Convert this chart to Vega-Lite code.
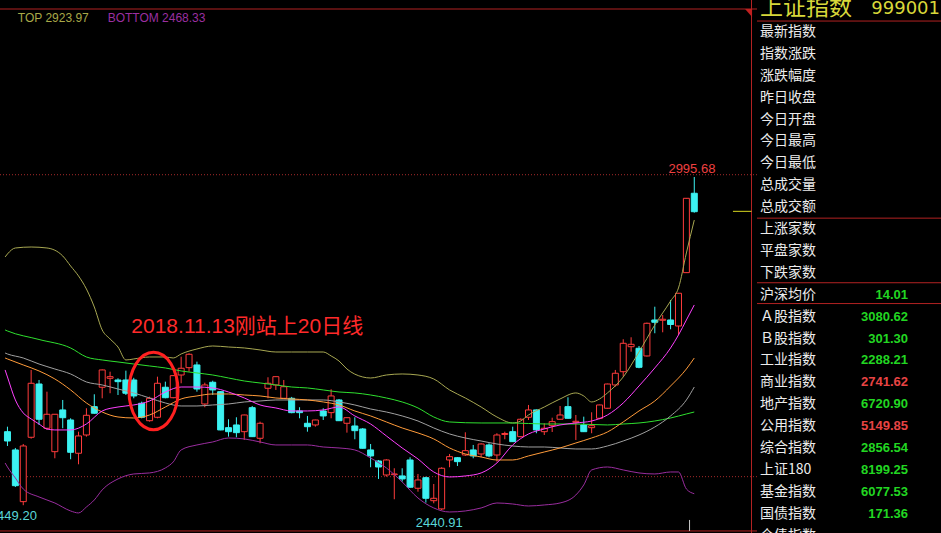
{
"$schema":"https://vega.github.io/schema/vega-lite/v6.json",
"background":"#000000","padding":0,"spacing":0,"bounds":"flush",
"config":{"view":{"stroke":null}},
"datasets":{
"candles":[
{"i":0,"o":2571.6,"h":2579.9,"l":2547.8,"c":2556.1},{"i":1,"o":2541.2,"h":2544.5,"l":2479.5,"c":2481.7},{"i":2,"o":2455.1,"h":2551.1,"l":2449.2,"c":2547.8},{"i":3,"o":2562.3,"h":2674.4,"l":2560.0,"c":2652.2},{"i":4,"o":2651.0,"h":2657.7,"l":2582.8,"c":2592.3},{"i":5,"o":2577.3,"h":2638.2,"l":2574.5,"c":2600.6},{"i":6,"o":2538.3,"h":2601.0,"l":2527.3,"c":2600.6},{"i":7,"o":2607.8,"h":2624.4,"l":2577.3,"c":2594.9},{"i":8,"o":2591.1,"h":2593.9,"l":2525.7,"c":2537.3},{"i":9,"o":2535.7,"h":2571.6,"l":2517.3,"c":2564.5},
{"i":10,"o":2566.1,"h":2610.6,"l":2563.3,"c":2598.9},{"i":11,"o":2613.3,"h":2633.9,"l":2601.5,"c":2602.3},{"i":12,"o":2645.6,"h":2675.2,"l":2627.2,"c":2674.4},{"i":13,"o":2660.5,"h":2671.5,"l":2635.6,"c":2663.2},{"i":14,"o":2657.7,"h":2660.5,"l":2632.7,"c":2654.9},{"i":15,"o":2657.7,"h":2673.2,"l":2632.7,"c":2635.6},{"i":16,"o":2657.7,"h":2661.3,"l":2627.2,"c":2631.1},{"i":17,"o":2618.9,"h":2621.6,"l":2593.9,"c":2595.6},{"i":18,"o":2589.9,"h":2629.9,"l":2588.3,"c":2627.2},{"i":19,"o":2595.6,"h":2663.2,"l":2593.9,"c":2652.2},
{"i":20,"o":2645.6,"h":2654.9,"l":2627.2,"c":2628.2},{"i":21,"o":2628.2,"h":2666.0,"l":2627.2,"c":2664.9},{"i":22,"o":2666.0,"h":2696.5,"l":2652.2,"c":2677.2},{"i":23,"o":2678.2,"h":2702.2,"l":2671.5,"c":2700.5},{"i":24,"o":2682.7,"h":2688.2,"l":2638.2,"c":2642.7},{"i":25,"o":2617.7,"h":2653.2,"l":2612.3,"c":2649.4},{"i":26,"o":2653.9,"h":2656.5,"l":2632.7,"c":2641.1},{"i":27,"o":2638.2,"h":2639.3,"l":2574.0,"c":2574.5},{"i":28,"o":2578.3,"h":2592.3,"l":2563.3,"c":2571.6},{"i":29,"o":2582.8,"h":2595.6,"l":2562.3,"c":2570.0},
{"i":30,"o":2571.6,"h":2599.9,"l":2557.8,"c":2599.4},{"i":31,"o":2611.6,"h":2614.4,"l":2562.8,"c":2563.3},{"i":32,"o":2560.6,"h":2588.3,"l":2552.3,"c":2585.6},{"i":33,"o":2643.9,"h":2662.2,"l":2627.2,"c":2652.2},{"i":34,"o":2649.4,"h":2663.5,"l":2641.1,"c":2663.2},{"i":35,"o":2627.2,"h":2657.7,"l":2626.7,"c":2646.5},{"i":36,"o":2627.2,"h":2629.5,"l":2602.3,"c":2603.3},{"i":37,"o":2606.1,"h":2612.3,"l":2593.9,"c":2603.3},{"i":38,"o":2585.6,"h":2597.8,"l":2571.6,"c":2579.9},{"i":39,"o":2582.8,"h":2591.5,"l":2579.9,"c":2591.1},
{"i":40,"o":2606.1,"h":2610.6,"l":2591.1,"c":2597.8},{"i":41,"o":2603.3,"h":2642.2,"l":2593.9,"c":2631.1},{"i":42,"o":2624.4,"h":2626.0,"l":2589.5,"c":2589.9},{"i":43,"o":2585.6,"h":2595.3,"l":2570.0,"c":2594.9},{"i":44,"o":2581.1,"h":2595.6,"l":2559.0,"c":2573.3},{"i":45,"o":2576.1,"h":2577.7,"l":2543.5,"c":2544.0},{"i":46,"o":2541.2,"h":2551.1,"l":2512.4,"c":2531.2},{"i":47,"o":2522.8,"h":2524.5,"l":2492.9,"c":2512.8},{"i":48,"o":2499.5,"h":2525.6,"l":2496.7,"c":2524.5},{"i":49,"o":2500.0,"h":2510.7,"l":2459.1,"c":2501.2},
{"i":50,"o":2497.9,"h":2510.7,"l":2488.4,"c":2492.9},{"i":51,"o":2524.5,"h":2529.0,"l":2478.6,"c":2479.1},{"i":52,"o":2477.4,"h":2501.2,"l":2471.7,"c":2491.2},{"i":53,"o":2495.0,"h":2496.7,"l":2453.4,"c":2460.7},{"i":54,"o":2456.7,"h":2484.5,"l":2452.4,"c":2460.7},{"i":55,"o":2443.0,"h":2512.4,"l":2440.91,"c":2510.7},{"i":56,"o":2524.5,"h":2534.5,"l":2512.4,"c":2530.0},{"i":57,"o":2528.3,"h":2529.2,"l":2514.5,"c":2521.7},{"i":58,"o":2532.8,"h":2570.6,"l":2531.2,"c":2540.0},{"i":59,"o":2541.2,"h":2549.5,"l":2527.3,"c":2531.2},
{"i":60,"o":2534.5,"h":2552.3,"l":2529.0,"c":2551.1},{"i":61,"o":2549.5,"h":2552.3,"l":2529.0,"c":2531.2},{"i":62,"o":2532.8,"h":2569.0,"l":2521.7,"c":2566.1},{"i":63,"o":2567.0,"h":2571.6,"l":2559.0,"c":2568.6},{"i":64,"o":2571.6,"h":2579.9,"l":2554.5,"c":2555.0},{"i":65,"o":2563.3,"h":2593.6,"l":2562.3,"c":2592.3},{"i":66,"o":2595.6,"h":2616.1,"l":2591.1,"c":2607.8},{"i":67,"o":2607.8,"h":2608.6,"l":2569.0,"c":2574.5},{"i":68,"o":2571.6,"h":2585.6,"l":2566.1,"c":2577.3},{"i":69,"o":2581.6,"h":2594.9,"l":2571.1,"c":2588.3},
{"i":70,"o":2592.3,"h":2614.4,"l":2591.9,"c":2599.4},{"i":71,"o":2613.3,"h":2628.9,"l":2593.6,"c":2593.9},{"i":72,"o":2587.3,"h":2599.4,"l":2557.8,"c":2588.9},{"i":73,"o":2582.8,"h":2596.6,"l":2571.1,"c":2571.6},{"i":74,"o":2578.3,"h":2603.9,"l":2569.0,"c":2581.6},{"i":75,"o":2593.9,"h":2616.5,"l":2592.3,"c":2616.1},{"i":76,"o":2610.6,"h":2651.5,"l":2610.0,"c":2651.0},{"i":77,"o":2649.4,"h":2674.4,"l":2646.5,"c":2668.9},{"i":78,"o":2671.5,"h":2725.5,"l":2663.2,"c":2718.8},{"i":79,"o":2713.1,"h":2728.8,"l":2704.8,"c":2717.1},
{"i":80,"o":2710.5,"h":2714.3,"l":2677.2,"c":2678.8},{"i":81,"o":2697.7,"h":2753.2,"l":2696.9,"c":2752.1},{"i":82,"o":2757.6,"h":2779.7,"l":2735.5,"c":2753.8},{"i":83,"o":2757.1,"h":2765.9,"l":2737.1,"c":2758.8},{"i":84,"o":2757.6,"h":2790.9,"l":2742.1,"c":2750.1},{"i":85,"o":2747.6,"h":2802.6,"l":2732.6,"c":2802.1},{"i":86,"o":2836.4,"h":2960.7,"l":2836.0,"c":2960.2},{"i":87,"o":2968.6,"h":2995.68,"l":2936.3,"c":2937.9}
],
"lines":[
{"s":"up","i":-0.3,"v":2862.5},{"s":"up","i":0,"v":2867.5},{"s":"up","i":1,"v":2877.5},{"s":"up","i":3,"v":2879.1},{"s":"up","i":5,"v":2877.5},{"s":"up","i":7,"v":2864.2},{"s":"up","i":8,"v":2847.5},{"s":"up","i":9,"v":2830.9},{"s":"up","i":10,"v":2809.2},{"s":"up","i":11,"v":2779.2},{"s":"up","i":12,"v":2741.0},{"s":"up","i":13,"v":2726.0},{"s":"up","i":14,"v":2712.6},{"s":"up","i":15,"v":2691.0},{"s":"up","i":16,"v":2692.7},{"s":"up","i":18,"v":2696.0},{"s":"up","i":20,"v":2696.0},{"s":"up","i":21,"v":2694.3},{"s":"up","i":22,"v":2701.0},{"s":"up","i":24,"v":2709.3},{"s":"up","i":26,"v":2714.3},{"s":"up","i":28,"v":2712.6},{"s":"up","i":30,"v":2711.0},{"s":"up","i":32,"v":2707.7},{"s":"up","i":34,"v":2704.3},{"s":"up","i":36,"v":2704.3},{"s":"up","i":38,"v":2704.3},{"s":"up","i":40,"v":2704.3},{"s":"up","i":41,"v":2697.7},{"s":"up","i":42,"v":2689.3},{"s":"up","i":43,"v":2676.0},{"s":"up","i":45,"v":2662.7},{"s":"up","i":46,"v":2661.0},{"s":"up","i":48,"v":2666.0},{"s":"up","i":50,"v":2667.7},{"s":"up","i":52,"v":2666.0},{"s":"up","i":54,"v":2659.4},{"s":"up","i":56,"v":2641.1},{"s":"up","i":58,"v":2627.7},{"s":"up","i":60,"v":2612.7},{"s":"up","i":62,"v":2596.1},{"s":"up","i":64,"v":2586.1},{"s":"up","i":65,"v":2589.4},{"s":"up","i":66,"v":2599.4},{"s":"up","i":68,"v":2612.7},{"s":"up","i":70,"v":2626.1},{"s":"up","i":72,"v":2636.1},{"s":"up","i":73,"v":2631.1},{"s":"up","i":74,"v":2621.1},{"s":"up","i":75,"v":2626.1},{"s":"up","i":76,"v":2636.1},{"s":"up","i":78,"v":2662.7},{"s":"up","i":80,"v":2704.3},{"s":"up","i":82,"v":2749.3},{"s":"up","i":84,"v":2789.2},{"s":"up","i":85,"v":2810.9},{"s":"up","i":86,"v":2869.2},{"s":"up","i":87,"v":2923.97},
{"s":"lo","i":-0.3,"v":2519.5},{"s":"lo","i":0,"v":2512.8},{"s":"lo","i":1,"v":2494.5},{"s":"lo","i":2,"v":2476.2},{"s":"lo","i":4,"v":2462.9},{"s":"lo","i":6,"v":2452.9},{"s":"lo","i":8,"v":2439.6},{"s":"lo","i":9,"v":2436.3},{"s":"lo","i":10,"v":2446.2},{"s":"lo","i":11,"v":2457.9},{"s":"lo","i":12,"v":2474.6},{"s":"lo","i":14,"v":2492.9},{"s":"lo","i":16,"v":2501.2},{"s":"lo","i":18,"v":2502.9},{"s":"lo","i":20,"v":2511.2},{"s":"lo","i":21,"v":2521.2},{"s":"lo","i":22,"v":2541.2},{"s":"lo","i":24,"v":2549.5},{"s":"lo","i":26,"v":2554.5},{"s":"lo","i":28,"v":2561.1},{"s":"lo","i":30,"v":2559.5},{"s":"lo","i":32,"v":2554.5},{"s":"lo","i":34,"v":2549.5},{"s":"lo","i":36,"v":2549.5},{"s":"lo","i":38,"v":2549.5},{"s":"lo","i":40,"v":2546.1},{"s":"lo","i":42,"v":2544.5},{"s":"lo","i":44,"v":2541.2},{"s":"lo","i":46,"v":2527.8},{"s":"lo","i":48,"v":2511.2},{"s":"lo","i":50,"v":2487.9},{"s":"lo","i":52,"v":2461.2},{"s":"lo","i":54,"v":2444.6},{"s":"lo","i":56,"v":2437.9},{"s":"lo","i":58,"v":2439.6},{"s":"lo","i":60,"v":2444.6},{"s":"lo","i":62,"v":2452.9},{"s":"lo","i":64,"v":2451.2},{"s":"lo","i":66,"v":2447.9},{"s":"lo","i":68,"v":2449.6},{"s":"lo","i":70,"v":2452.9},{"s":"lo","i":72,"v":2466.2},{"s":"lo","i":73,"v":2482.9},{"s":"lo","i":74,"v":2507.9},{"s":"lo","i":76,"v":2512.8},{"s":"lo","i":78,"v":2507.9},{"s":"lo","i":80,"v":2502.9},{"s":"lo","i":82,"v":2501.2},{"s":"lo","i":84,"v":2504.5},{"s":"lo","i":85,"v":2504.5},{"s":"lo","i":86,"v":2476.2},{"s":"lo","i":87,"v":2468.33},
{"s":"g60","i":-0.3,"v":2741.0},{"s":"g60","i":0,"v":2739.3},{"s":"g60","i":4,"v":2725.1},{"s":"g60","i":8,"v":2711.0},{"s":"g60","i":10,"v":2696.0},{"s":"g60","i":12,"v":2691.0},{"s":"g60","i":14,"v":2687.7},{"s":"g60","i":16,"v":2684.3},{"s":"g60","i":18,"v":2681.0},{"s":"g60","i":20,"v":2677.7},{"s":"g60","i":22,"v":2672.7},{"s":"g60","i":24,"v":2669.4},{"s":"g60","i":26,"v":2666.0},{"s":"g60","i":28,"v":2661.0},{"s":"g60","i":30,"v":2656.0},{"s":"g60","i":32,"v":2652.7},{"s":"g60","i":34,"v":2649.4},{"s":"g60","i":36,"v":2646.0},{"s":"g60","i":38,"v":2644.4},{"s":"g60","i":40,"v":2641.1},{"s":"g60","i":42,"v":2637.7},{"s":"g60","i":44,"v":2636.1},{"s":"g60","i":46,"v":2632.7},{"s":"g60","i":48,"v":2627.7},{"s":"g60","i":50,"v":2621.1},{"s":"g60","i":52,"v":2611.1},{"s":"g60","i":54,"v":2596.1},{"s":"g60","i":56,"v":2587.8},{"s":"g60","i":60,"v":2586.1},{"s":"g60","i":64,"v":2586.1},{"s":"g60","i":68,"v":2584.4},{"s":"g60","i":72,"v":2584.4},{"s":"g60","i":76,"v":2582.8},{"s":"g60","i":78,"v":2584.4},{"s":"g60","i":80,"v":2586.1},{"s":"g60","i":82,"v":2589.4},{"s":"g60","i":84,"v":2594.4},{"s":"g60","i":86,"v":2601.1},{"s":"g60","i":87,"v":2604.4},
{"s":"g30","i":-0.3,"v":2702.6},{"s":"g30","i":0,"v":2701.0},{"s":"g30","i":2,"v":2694.3},{"s":"g30","i":4,"v":2684.3},{"s":"g30","i":6,"v":2676.0},{"s":"g30","i":8,"v":2667.7},{"s":"g30","i":10,"v":2654.4},{"s":"g30","i":12,"v":2649.4},{"s":"g30","i":14,"v":2642.7},{"s":"g30","i":16,"v":2636.1},{"s":"g30","i":18,"v":2627.7},{"s":"g30","i":20,"v":2619.4},{"s":"g30","i":22,"v":2614.4},{"s":"g30","i":24,"v":2614.4},{"s":"g30","i":26,"v":2616.1},{"s":"g30","i":28,"v":2617.7},{"s":"g30","i":30,"v":2621.1},{"s":"g30","i":32,"v":2622.7},{"s":"g30","i":34,"v":2624.4},{"s":"g30","i":36,"v":2624.4},{"s":"g30","i":38,"v":2624.4},{"s":"g30","i":40,"v":2624.4},{"s":"g30","i":42,"v":2621.1},{"s":"g30","i":44,"v":2616.1},{"s":"g30","i":46,"v":2609.4},{"s":"g30","i":48,"v":2604.4},{"s":"g30","i":50,"v":2597.8},{"s":"g30","i":52,"v":2589.4},{"s":"g30","i":54,"v":2577.8},{"s":"g30","i":56,"v":2567.8},{"s":"g30","i":58,"v":2561.1},{"s":"g30","i":60,"v":2556.1},{"s":"g30","i":62,"v":2551.1},{"s":"g30","i":64,"v":2547.8},{"s":"g30","i":66,"v":2546.1},{"s":"g30","i":68,"v":2546.1},{"s":"g30","i":70,"v":2544.5},{"s":"g30","i":72,"v":2542.8},{"s":"g30","i":74,"v":2542.8},{"s":"g30","i":76,"v":2547.8},{"s":"g30","i":78,"v":2556.1},{"s":"g30","i":80,"v":2566.1},{"s":"g30","i":82,"v":2579.4},{"s":"g30","i":84,"v":2597.8},{"s":"g30","i":86,"v":2624.4},{"s":"g30","i":87,"v":2646.0},
{"s":"m20","i":-0.3,"v":2694.3},{"s":"m20","i":0,"v":2692.7},{"s":"m20","i":2,"v":2682.7},{"s":"m20","i":4,"v":2672.7},{"s":"m20","i":6,"v":2659.4},{"s":"m20","i":8,"v":2641.1},{"s":"m20","i":10,"v":2619.4},{"s":"m20","i":12,"v":2604.4},{"s":"m20","i":14,"v":2596.1},{"s":"m20","i":16,"v":2594.4},{"s":"m20","i":18,"v":2599.4},{"s":"m20","i":20,"v":2612.7},{"s":"m20","i":22,"v":2626.1},{"s":"m20","i":24,"v":2631.1},{"s":"m20","i":26,"v":2634.4},{"s":"m20","i":28,"v":2634.4},{"s":"m20","i":30,"v":2632.7},{"s":"m20","i":32,"v":2631.1},{"s":"m20","i":34,"v":2627.7},{"s":"m20","i":36,"v":2626.1},{"s":"m20","i":38,"v":2624.4},{"s":"m20","i":40,"v":2621.1},{"s":"m20","i":42,"v":2616.1},{"s":"m20","i":44,"v":2606.1},{"s":"m20","i":46,"v":2597.8},{"s":"m20","i":48,"v":2587.8},{"s":"m20","i":50,"v":2577.8},{"s":"m20","i":52,"v":2569.5},{"s":"m20","i":54,"v":2559.5},{"s":"m20","i":56,"v":2544.5},{"s":"m20","i":58,"v":2534.5},{"s":"m20","i":60,"v":2529.5},{"s":"m20","i":62,"v":2524.5},{"s":"m20","i":64,"v":2524.5},{"s":"m20","i":66,"v":2531.2},{"s":"m20","i":68,"v":2537.8},{"s":"m20","i":70,"v":2544.5},{"s":"m20","i":72,"v":2552.8},{"s":"m20","i":74,"v":2561.1},{"s":"m20","i":76,"v":2571.1},{"s":"m20","i":78,"v":2587.8},{"s":"m20","i":80,"v":2606.1},{"s":"m20","i":82,"v":2622.7},{"s":"m20","i":84,"v":2647.7},{"s":"m20","i":86,"v":2676.0},{"s":"m20","i":87,"v":2694.3},
{"s":"m10","i":-0.3,"v":2674.4},{"s":"m10","i":0,"v":2662.7},{"s":"m10","i":1,"v":2624.4},{"s":"m10","i":2,"v":2602.8},{"s":"m10","i":3,"v":2592.8},{"s":"m10","i":4,"v":2584.4},{"s":"m10","i":5,"v":2576.1},{"s":"m10","i":6,"v":2574.5},{"s":"m10","i":8,"v":2574.5},{"s":"m10","i":10,"v":2584.4},{"s":"m10","i":12,"v":2606.1},{"s":"m10","i":14,"v":2612.7},{"s":"m10","i":16,"v":2616.1},{"s":"m10","i":18,"v":2622.7},{"s":"m10","i":20,"v":2637.7},{"s":"m10","i":22,"v":2646.0},{"s":"m10","i":24,"v":2646.0},{"s":"m10","i":26,"v":2644.4},{"s":"m10","i":28,"v":2637.7},{"s":"m10","i":30,"v":2627.7},{"s":"m10","i":32,"v":2616.1},{"s":"m10","i":34,"v":2611.1},{"s":"m10","i":36,"v":2606.1},{"s":"m10","i":38,"v":2606.1},{"s":"m10","i":40,"v":2607.8},{"s":"m10","i":42,"v":2612.7},{"s":"m10","i":44,"v":2597.8},{"s":"m10","i":46,"v":2584.4},{"s":"m10","i":48,"v":2564.5},{"s":"m10","i":50,"v":2544.5},{"s":"m10","i":52,"v":2526.2},{"s":"m10","i":54,"v":2504.5},{"s":"m10","i":56,"v":2496.2},{"s":"m10","i":58,"v":2497.9},{"s":"m10","i":60,"v":2502.9},{"s":"m10","i":62,"v":2519.5},{"s":"m10","i":64,"v":2549.5},{"s":"m10","i":66,"v":2567.8},{"s":"m10","i":68,"v":2576.1},{"s":"m10","i":70,"v":2582.8},{"s":"m10","i":72,"v":2586.1},{"s":"m10","i":74,"v":2589.4},{"s":"m10","i":76,"v":2599.4},{"s":"m10","i":78,"v":2619.4},{"s":"m10","i":80,"v":2647.7},{"s":"m10","i":82,"v":2677.7},{"s":"m10","i":84,"v":2711.0},{"s":"m10","i":85,"v":2732.6},{"s":"m10","i":86,"v":2757.6},{"s":"m10","i":87,"v":2782.6}
],
"panel":[
{"row":0,"name":"最新指数"},{"row":1,"name":"指数涨跌"},{"row":2,"name":"涨跌幅度"},{"row":3,"name":"昨日收盘"},{"row":4,"name":"今日开盘"},{"row":5,"name":"今日最高"},{"row":6,"name":"今日最低"},{"row":7,"name":"总成交量"},{"row":8,"name":"总成交额"},{"row":9,"name":"上涨家数"},{"row":10,"name":"平盘家数"},{"row":11,"name":"下跌家数"},
{"row":12,"name":"沪深均价","value":"14.01","dir":"down"},{"row":13,"name":"Ａ股指数","value":"3080.62","dir":"down"},{"row":14,"name":"Ｂ股指数","value":"301.30","dir":"down"},{"row":15,"name":"工业指数","value":"2288.21","dir":"down"},{"row":16,"name":"商业指数","value":"2741.62","dir":"up"},{"row":17,"name":"地产指数","value":"6720.90","dir":"down"},{"row":18,"name":"公用指数","value":"5149.85","dir":"up"},{"row":19,"name":"综合指数","value":"2856.54","dir":"down"},{"row":20,"name":"上证180","value":"8199.25","dir":"down"},{"row":21,"name":"基金指数","value":"6077.53","dir":"down"},{"row":22,"name":"国债指数","value":"171.36","dir":"down"},{"row":23,"name":"企债指数"}
]
},
"hconcat":[
{"width":757,"height":533,
"layer":[
{"data":{"values":[{"p":3275.4},{"p":2406.3}]},"mark":{"type":"rule","color":"#b22222","strokeWidth":1,"clip":true},
 "encoding":{"y":{"field":"p","type":"quantitative","scale":{"domain":[2402.9,3290.4],"nice":false,"zero":false},"axis":null}}},
{"data":{"values":[{"p":2999.5},{"p":2496.7}]},"mark":{"type":"rule","color":"#a52a2a","strokeWidth":1,"strokeDash":[1,2],"clip":true},
 "encoding":{"y":{"field":"p","type":"quantitative","scale":{"domain":[2402.9,3290.4],"nice":false,"zero":false},"axis":null}}},
{"data":{"values":[{"i":94.25}]},"mark":{"type":"rule","color":"#b22222","strokeWidth":1,"clip":true},
 "encoding":{"x":{"field":"i","type":"quantitative","scale":{"domain":[-0.3125,94.3125],"nice":false,"zero":false},"axis":null}}},
{"data":{"name":"candles"},"mark":{"type":"rule","strokeWidth":1,"clip":true},
 "encoding":{"x":{"field":"i","type":"quantitative","scale":{"domain":[-0.3125,94.3125],"nice":false,"zero":false},"axis":null},
  "y":{"field":"l","type":"quantitative","scale":{"domain":[2402.9,3290.4],"nice":false,"zero":false},"axis":null},"y2":{"field":"h"},
  "color":{"condition":{"test":"datum.c >= datum.o","value":"#ff3c3c"},"value":"#3cf2f2"}}},
{"data":{"name":"candles"},"mark":{"type":"bar","size":6,"strokeWidth":1,"clip":true},
 "encoding":{"x":{"field":"i","type":"quantitative","scale":{"domain":[-0.3125,94.3125],"nice":false,"zero":false},"axis":null},
  "y":{"field":"o","type":"quantitative","scale":{"domain":[2402.9,3290.4],"nice":false,"zero":false},"axis":null},"y2":{"field":"c"},
  "fill":{"condition":{"test":"datum.c >= datum.o","value":"#000000"},"value":"#3cf2f2"},
  "stroke":{"condition":{"test":"datum.c >= datum.o","value":"#ff3c3c"},"value":"#3cf2f2"}}},
{"data":{"name":"lines"},"mark":{"type":"line","strokeWidth":1,"interpolate":"monotone","clip":true},
 "encoding":{"x":{"field":"i","type":"quantitative","scale":{"domain":[-0.3125,94.3125],"nice":false,"zero":false},"axis":null},
  "y":{"field":"v","type":"quantitative","scale":{"domain":[2402.9,3290.4],"nice":false,"zero":false},"axis":null},
  "color":{"field":"s","type":"nominal","scale":{"domain":["up","lo","g60","g30","m20","m10"],"range":["#a8a852","#9a2d9f","#2fe02f","#a0a0a0","#ff9b3a","#ff40ff"]},"legend":null}}},
{"data":{"values":[{"i":18.5,"p":2639.4}]},"mark":{"type":"point","shape":"M 0.633 0 C 0.633 0.5523 0.3496 1 0 1 C -0.3496 1 -0.633 0.5523 -0.633 0 C -0.633 -0.5523 -0.3496 -1 0 -1 C 0.3496 -1 0.633 -0.5523 0.633 0 Z","size":6000,"filled":false,"stroke":"#ff2020","strokeWidth":3,"opacity":1,"clip":true},
 "encoding":{"x":{"field":"i","type":"quantitative","scale":{"domain":[-0.3125,94.3125],"nice":false,"zero":false},"axis":null},
  "y":{"field":"p","type":"quantitative","scale":{"domain":[2402.9,3290.4],"nice":false,"zero":false},"axis":null}}},
{"data":{"values":[{"i":15.69,"p":2745.1,"t":"2018.11.13刚站上20日线"}]},"mark":{"type":"text","align":"left","baseline":"middle","fontSize":21,"font":"Liberation Sans, Noto Sans CJK SC","color":"#ff2a2a","clip":true},
 "encoding":{"x":{"field":"i","type":"quantitative","scale":{"domain":[-0.3125,94.3125],"nice":false,"zero":false},"axis":null},
  "y":{"field":"p","type":"quantitative","scale":{"domain":[2402.9,3290.4],"nice":false,"zero":false},"axis":null},"text":{"field":"t"}}},
{"data":{"values":[{"i":1.3125,"p":3254.3,"t":"TOP 2923.97"}]},"mark":{"type":"text","align":"left","baseline":"alphabetic","fontSize":12,"font":"Liberation Sans","color":"#a9a948","clip":true},
 "encoding":{"x":{"field":"i","type":"quantitative","scale":{"domain":[-0.3125,94.3125],"nice":false,"zero":false},"axis":null},
  "y":{"field":"p","type":"quantitative","scale":{"domain":[2402.9,3290.4],"nice":false,"zero":false},"axis":null},"text":{"field":"t"}}},
{"data":{"values":[{"i":12.6875,"p":3254.3,"t":"BOTTOM 2468.33"}]},"mark":{"type":"text","align":"left","baseline":"alphabetic","fontSize":12,"font":"Liberation Sans","color":"#9b2fa0","clip":true},
 "encoding":{"x":{"field":"i","type":"quantitative","scale":{"domain":[-0.3125,94.3125],"nice":false,"zero":false},"axis":null},
  "y":{"field":"p","type":"quantitative","scale":{"domain":[2402.9,3290.4],"nice":false,"zero":false},"axis":null},"text":{"field":"t"}}},
{"data":{"values":[{"i":86.7,"p":3002.4,"t":"2995.68"}]},"mark":{"type":"text","align":"center","baseline":"alphabetic","fontSize":13,"font":"Liberation Sans","color":"#f04040","clip":true},
 "encoding":{"x":{"field":"i","type":"quantitative","scale":{"domain":[-0.3125,94.3125],"nice":false,"zero":false},"axis":null},
  "y":{"field":"p","type":"quantitative","scale":{"domain":[2402.9,3290.4],"nice":false,"zero":false},"axis":null},"text":{"field":"t"}}},
{"data":{"values":[{"i":54.7,"p":2413.4,"t":"2440.91"},{"i":0.75,"p":2424.6,"t":"2449.20"}]},"mark":{"type":"text","align":"center","baseline":"alphabetic","fontSize":13,"font":"Liberation Sans","color":"#5ad7d7","clip":true},
 "encoding":{"x":{"field":"i","type":"quantitative","scale":{"domain":[-0.3125,94.3125],"nice":false,"zero":false},"axis":null},
  "y":{"field":"p","type":"quantitative","scale":{"domain":[2402.9,3290.4],"nice":false,"zero":false},"axis":null},"text":{"field":"t"}}},
{"data":{"values":[{"i0":91.9,"i1":94.25,"p":2938.5}]},"mark":{"type":"rule","color":"#d8d820","strokeWidth":1,"clip":true},
 "encoding":{"x":{"field":"i0","type":"quantitative","scale":{"domain":[-0.3125,94.3125],"nice":false,"zero":false},"axis":null},"x2":{"field":"i1"},
  "y":{"field":"p","type":"quantitative","scale":{"domain":[2402.9,3290.4],"nice":false,"zero":false},"axis":null}}},
{"data":{"values":[{"i":86.4,"p0":2424.6,"p1":2406.3}]},"mark":{"type":"rule","color":"#c8c8c8","strokeWidth":1,"clip":true},
 "encoding":{"x":{"field":"i","type":"quantitative","scale":{"domain":[-0.3125,94.3125],"nice":false,"zero":false},"axis":null},
  "y":{"field":"p0","type":"quantitative","scale":{"domain":[2402.9,3290.4],"nice":false,"zero":false},"axis":null},"y2":{"field":"p1"}}},
{"data":{"values":[{"i":93.875,"p":3268.8}]},"mark":{"type":"point","shape":"M -0.875 -1 L 0.875 -1 L 0.875 1 Z","size":64,"filled":true,"fill":"#c02020","strokeWidth":0,"opacity":1,"clip":true},
 "encoding":{"x":{"field":"i","type":"quantitative","scale":{"domain":[-0.3125,94.3125],"nice":false,"zero":false},"axis":null},
  "y":{"field":"p","type":"quantitative","scale":{"domain":[2402.9,3290.4],"nice":false,"zero":false},"axis":null}}}
]},
{"width":184,"height":533,
"layer":[
{"data":{"values":[{"row":-0.5},{"row":8.5},{"row":11.45},{"row":12.4}]},"mark":{"type":"rule","color":"#b22222","strokeWidth":1,"clip":true},
 "encoding":{"y":{"field":"row","type":"quantitative","scale":{"domain":[-1.461,22.877],"reverse":true,"nice":false,"zero":false},"axis":null}}},
{"data":{"values":[{"row":-1,"t":"上证指数"}]},"mark":{"type":"text","align":"left","baseline":"middle","dy":-2,"fontSize":23,"font":"Noto Sans CJK SC","color":"#d8d83a","clip":true},
 "encoding":{"x":{"datum":"name","type":"nominal","scale":{"type":"point","domain":["name","value"],"range":[3,151],"padding":0},"axis":null},
  "y":{"field":"row","type":"quantitative","scale":{"domain":[-1.461,22.877],"reverse":true,"nice":false,"zero":false},"axis":null},"text":{"field":"t"}}},
{"data":{"values":[{"row":-1,"t":"999001"}]},"mark":{"type":"text","align":"right","baseline":"middle","dx":32,"dy":-1,"fontSize":18,"font":"DejaVu Sans","color":"#d8d83a","clip":true},
 "encoding":{"x":{"datum":"value","type":"nominal","scale":{"type":"point","domain":["name","value"],"range":[3,151],"padding":0},"axis":null},
  "y":{"field":"row","type":"quantitative","scale":{"domain":[-1.461,22.877],"reverse":true,"nice":false,"zero":false},"axis":null},"text":{"field":"t"}}},
{"data":{"name":"panel"},"mark":{"type":"text","align":"left","baseline":"middle","fontSize":14,"font":"Noto Sans CJK SC","color":"#ececec","clip":true},
 "encoding":{"x":{"datum":"name","type":"nominal","scale":{"type":"point","domain":["name","value"],"range":[3,151],"padding":0},"axis":null},
  "y":{"field":"row","type":"quantitative","scale":{"domain":[-1.461,22.877],"reverse":true,"nice":false,"zero":false},"axis":null},"text":{"field":"name"}}},
{"data":{"name":"panel"},"transform":[{"filter":"datum.value != null"}],"mark":{"type":"text","align":"right","baseline":"middle","fontSize":13,"fontWeight":"bold","font":"Liberation Sans","clip":true},
 "encoding":{"x":{"datum":"value","type":"nominal","scale":{"type":"point","domain":["name","value"],"range":[3,151],"padding":0},"axis":null},
  "y":{"field":"row","type":"quantitative","scale":{"domain":[-1.461,22.877],"reverse":true,"nice":false,"zero":false},"axis":null},"text":{"field":"value"},
  "color":{"condition":{"test":"datum.dir == 'up'","value":"#e84444"},"value":"#22d622"}}}
]}
]
}
